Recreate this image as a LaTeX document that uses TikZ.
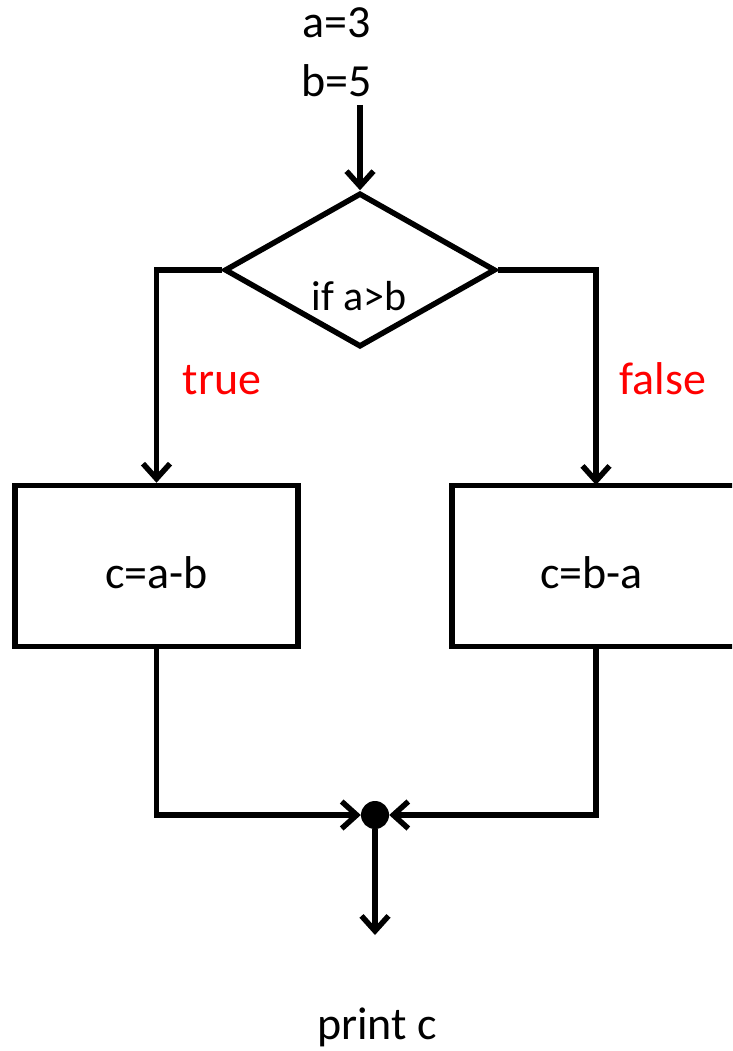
\documentclass[tikz,border=0pt]{standalone}
\usepackage{fontspec}
\setmainfont{Carlito}
\usetikzlibrary{shapes.geometric,arrows.meta}
\begin{document}
\begin{tikzpicture}[x=1pt,y=-1pt,
  lbl/.style={font=\fontsize{46}{55}\selectfont, inner sep=0pt, anchor=base},
  redlbl/.style={lbl, text=red},
  flowline/.style={line width=5.5pt, line join=miter},
  arr/.style={flowline, -{Straight Barb[length=15pt,width=27pt,line width=5.5pt]}},
  stepbox/.style={draw, line width=5.5pt, rectangle, minimum width=283pt, minimum height=161pt, inner sep=0pt, text height=44pt, text depth=0pt, font=\fontsize{46}{55}\selectfont},
  decision/.style={draw, line width=5.5pt, diamond, minimum width=271pt, minimum height=154pt, inner sep=0pt}
]
\path[use as bounding box] (0,0) rectangle (732,1051);
\clip (0,0) rectangle (732,1051);

\node[lbl] (ta) at (337,38) {a=3};
\node[lbl] (tb) at (337,97) {b=5};
\coordinate (start) at (360,105);

\node[decision] (d) at (360,270) {};
\node[font=\fontsize{42}{50}\selectfont, inner sep=0pt, anchor=base] (dt) at (359,310) {if a>b};

\node[redlbl] (tt) at (222,394) {true};
\node[redlbl] (tf) at (663,394) {false};

\node[stepbox] (lb) at (156.5,566) {c=a-b};
\node[stepbox, minimum width=295pt] (rb) at (599.5,566) {\hspace*{-16pt}c=b-a};
\coordinate (rtop) at (596,485);

\fill (375,815) circle (14pt);
\node[circle, minimum size=28pt, inner sep=0pt] (j) at (375,815) {};
\coordinate (pend) at (375,935);
\node[lbl] (pc) at (377,1039) {print c};

\draw[arr] (start) -- (d.north);
\draw[arr] (d.west) -| (lb.north);
\draw[arr] (d.east) -| (rtop);
\draw[arr] (lb.south) |- (j.west);
\draw[arr] (rb.south -| rtop) |- (j.east);
\draw[arr] (j.south) -- (pend);
\end{tikzpicture}
\end{document}
